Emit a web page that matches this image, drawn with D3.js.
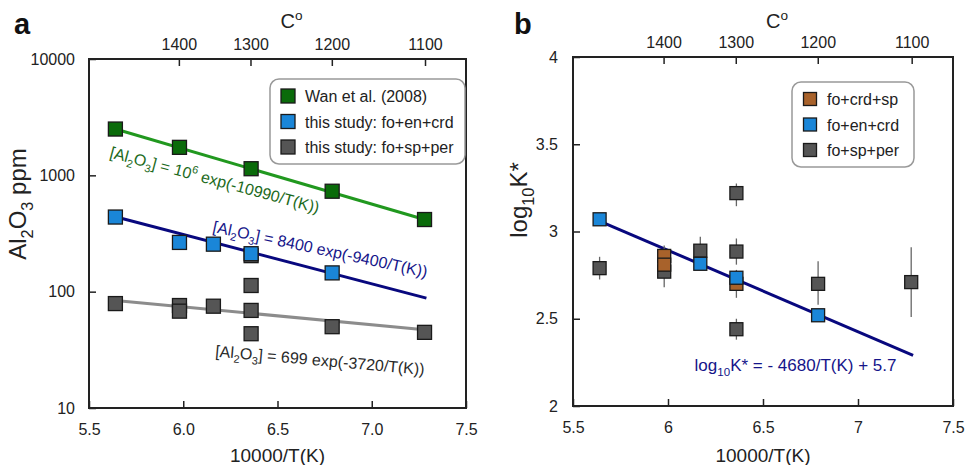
<!DOCTYPE html>
<html>
<head>
<meta charset="utf-8">
<script src="https://cdn.jsdelivr.net/npm/d3@7"></script>
<style>
body { margin: 0; background: #fff; }
svg { font-family: "Liberation Sans", Arial, sans-serif; }
</style>
</head>
<body>
<svg width="966" height="465"></svg>
<script>
// ---- panel a: Al2O3 (ppm) vs 10000/T ----
var wanX  = [5.64, 5.98, 6.36, 6.79, 7.28];
var wanAl = [2500, 1740, 1140, 730, 417];
var enX   = [5.64, 5.98, 6.16, 6.36, 6.79];
var enAl  = [438, 265, 256, 212, 145];
var spX   = [5.64, 5.98, 5.98, 6.16, 6.36, 6.36, 6.36, 6.36, 6.79, 7.28];
var spAl  = [79, 76, 68, 75, 204, 113, 69, 43.5, 50, 44.7];
// fitted lines (end points)
var wanFitX = [5.64, 7.28], wanFitAl = [2500, 417];
var enFitX  = [5.64, 7.29], enFitAl  = [440, 88];
var spFitX  = [5.64, 7.28], spFitAl  = [84, 47];

// ---- panel b: log10K* vs 10000/T ----
var perX  = [5.64, 5.98, 6.17, 6.36, 6.36, 6.36, 6.79, 7.28];
var perK  = [2.79, 2.77, 2.89, 3.22, 2.885, 2.44, 2.70, 2.71];
var perLo = [2.725, 2.68, 2.81, 3.145, 2.81, 2.38, 2.58, 2.51];
var perHi = [2.855, 2.85, 2.97, 3.275, 2.96, 2.50, 2.83, 2.91];
var crdX  = [5.98, 5.98, 6.36];
var crdK  = [2.86, 2.81, 2.70];
var crdLo = [2.80, 2.77, 2.62];
var crdHi = [2.92, 2.85, 2.78];
var enbX  = [5.64, 6.17, 6.36, 6.79];
var enbK  = [3.07, 2.815, 2.735, 2.52];
var kFitX = [5.64, 7.29], kFitK = [3.06, 2.29];

// ---- axes ----
var xTicksA = [5.5, 6.0, 6.5, 7.0, 7.5];
var xTicksB = [5.5, 6, 6.5, 7, 7.5];
var yTicksA = [10, 100, 1000, 10000];
var yTicksB = [2, 2.5, 3, 3.5, 4];
var celsiusTicks = [1400, 1300, 1200, 1100];

var col = {
	wan: "#0a6b0a", wanLine: "#21981f",
	en: "#1a86d8", enLine: "#08087e",
	sp: "#555555", spLine: "#8c8c8c",
	crd: "#a8622b", ink: "#222"
};

var svg = d3.select("svg");

function zip(xs, ys){ return xs.map(function(x, i){ return { x: x, y: ys[i], i: i } }) }

// text with sub/superscript parts: [[str, "sub"|"sup"|undefined], ...]
function rich(t, parts){
	var fs = parseFloat(t.attr("font-size")), cur = 0;
	parts.forEach(function(p){
		var shift = p[1] == "sub" ? fs*0.28 : p[1] == "sup" ? -fs*0.42 : 0;
		var s = t.append("tspan").attr("dy", shift - cur).text(p[0]);
		if(p[1]) s.attr("font-size", fs*0.68);
		cur = shift;
	});
	return t;
}

function frame(g, x, y, ticksX, ticksY, fmtX, fmtY, padY){
	var xr = x.range(), yr = y.range();
	g.append("g").attr("transform", "translate(0," + yr[0] + ")")
		.call(d3.axisBottom(x).tickValues(ticksX).tickFormat(fmtX).tickSizeInner(-7).tickSizeOuter(0).tickPadding(16));
	g.append("g").attr("transform", "translate(" + xr[0] + ",0)")
		.call(d3.axisLeft(y).tickValues(ticksY).tickFormat(fmtY).tickSizeInner(-7).tickSizeOuter(0).tickPadding(padY));
	g.append("g").attr("transform", "translate(0," + yr[1] + ")")
		.call(d3.axisTop(x).tickValues(celsiusTicks.map(function(c){ return 10000/(c + 273.15) }))
			.tickFormat(function(d, i){ return celsiusTicks[i] }).tickSizeInner(-7).tickSizeOuter(0).tickPadding(9));
	g.selectAll(".domain").remove();
	g.selectAll(".tick line").attr("stroke", col.ink).attr("stroke-width", 1.5);
	g.selectAll(".tick text").attr("font-size", 16).attr("fill", col.ink).attr("font-family", null);
	g.append("rect").attr("x", xr[0]).attr("y", yr[1])
		.attr("width", xr[1] - xr[0]).attr("height", yr[0] - yr[1])
		.attr("fill", "none").attr("stroke", col.ink).attr("stroke-width", 2);
	rich(g.append("text").attr("x", (xr[0] + xr[1])/2 + 14).attr("y", 28).attr("font-size", 20)
		.attr("text-anchor", "middle").attr("fill", col.ink), [["C"], ["o", "sup"]]);
	g.append("text").attr("x", (xr[0] + xr[1])/2).attr("y", 462).attr("font-size", 19)
		.attr("text-anchor", "middle").attr("fill", col.ink).text("10000/T(K)");
}

function squares(g, data, x, y, fill, size){
	g.selectAll(null).data(data).enter().append("rect")
		.attr("x", function(d){ return x(d.x) - size/2 })
		.attr("y", function(d){ return y(d.y) - size/2 })
		.attr("width", size).attr("height", size)
		.attr("fill", fill).attr("stroke", "#1a1a1a").attr("stroke-width", 1.3);
}

function fitLine(g, xs, ys, x, y, color, w){
	g.append("path").datum(zip(xs, ys))
		.attr("d", d3.line().x(function(d){ return x(d.x) }).y(function(d){ return y(d.y) }))
		.attr("fill", "none").attr("stroke", color).attr("stroke-width", w);
}

function legend(g, x0, y0, w, h, items, size){
	g.append("rect").attr("x", x0).attr("y", y0).attr("width", w).attr("height", h)
		.attr("rx", 9).attr("fill", "#fff").attr("stroke", "#999").attr("stroke-width", 1.5);
	items.forEach(function(it, i){
		var cy = y0 + 17 + i*25.5;
		g.append("rect").attr("x", x0 + 18 - size/2).attr("y", cy - size/2)
			.attr("width", size).attr("height", size)
			.attr("fill", it[1]).attr("stroke", "#1a1a1a").attr("stroke-width", 1.3);
		g.append("text").attr("x", x0 + 35).attr("y", cy + 6).attr("font-size", 16)
			.attr("fill", col.ink).text(it[0]);
	});
}

// ================= panel a =================
var ga = svg.append("g");
var xa = d3.scaleLinear().domain([5.5, 7.5]).range([89, 466]);
var ya = d3.scaleLog().domain([10, 10000]).range([408, 59]);

frame(ga, xa, ya, xTicksA, yTicksA, d3.format(".1f"), d3.format("d"), 14);

fitLine(ga, spFitX, spFitAl, xa, ya, col.spLine, 3);
fitLine(ga, enFitX, enFitAl, xa, ya, col.enLine, 3);
fitLine(ga, wanFitX, wanFitAl, xa, ya, col.wanLine, 3);
squares(ga, zip(spX, spAl), xa, ya, col.sp, 14);
squares(ga, zip(enX, enAl), xa, ya, col.en, 14);
squares(ga, zip(wanX, wanAl), xa, ya, col.wan, 14);

function eqA(x, y, angle, color, parts){
	rich(ga.append("text").attr("font-size", 16).attr("fill", color)
		.attr("transform", "translate(" + xa(x) + "," + ya(y) + ") rotate(" + angle + ")"), parts);
}
eqA(5.606, 1430, 15, "#1c6a1c", [["[Al"], ["2", "sub"], ["O"], ["3", "sub"], ["] = 10"], ["6", "sup"], [" exp(-10990/T(K))"]]);
eqA(6.153, 327, 12, "#15158a", [["[Al"], ["2", "sub"], ["O"], ["3", "sub"], ["] = 8400 exp(-9400/T(K))"]]);
eqA(6.168, 27.7, 5, "#2a2a2a", [["[Al"], ["2", "sub"], ["O"], ["3", "sub"], ["] = 699 exp(-3720/T(K))"]]);

legend(ga, 270, 79, 195, 85, [["Wan et al. (2008)", col.wan], ["this study: fo+en+crd", col.en], ["this study: fo+sp+per", col.sp]], 14);

rich(ga.append("text").attr("font-size", 24).attr("fill", col.ink).attr("text-anchor", "middle")
	.attr("transform", "translate(26,204) rotate(-90)"), [["Al"], ["2", "sub"], ["O"], ["3", "sub"], [" ppm"]]);
ga.append("text").attr("x", 14).attr("y", 34).attr("font-size", 29).attr("font-weight", "bold")
	.attr("fill", "#111").text("a");

// ================= panel b =================
var gb = svg.append("g");
var xb = d3.scaleLinear().domain([5.5, 7.5]).range([573, 953]);
var yb = d3.scaleLinear().domain([2, 4]).range([406, 57]);

frame(gb, xb, yb, xTicksB, yTicksB, d3.format(""), d3.format(""), 15);

fitLine(gb, kFitX, kFitK, xb, yb, col.enLine, 3);

function errBars(data, lo, hi){
	gb.selectAll(null).data(data).enter().append("line")
		.attr("x1", function(d){ return xb(d.x) }).attr("x2", function(d){ return xb(d.x) })
		.attr("y1", function(d){ return yb(lo[d.i]) }).attr("y2", function(d){ return yb(hi[d.i]) })
		.attr("stroke", "#666").attr("stroke-width", 1.3);
}
errBars(zip(perX, perK), perLo, perHi);
errBars(zip(crdX, crdK), crdLo, crdHi);
squares(gb, zip(perX, perK), xb, yb, col.sp, 13);
squares(gb, zip(crdX, crdK), xb, yb, col.crd, 13);
squares(gb, zip(enbX, enbK), xb, yb, col.en, 13);

rich(gb.append("text").attr("x", xb(6.14)).attr("y", yb(2.2)).attr("font-size", 17).attr("fill", "#15158a"),
	[["log"], ["10", "sub"], ["K* =  - 4680/T(K) + 5.7"]]);

legend(gb, 792, 82, 122, 85, [["fo+crd+sp", col.crd], ["fo+en+crd", col.en], ["fo+sp+per", col.sp]], 13);

rich(gb.append("text").attr("font-size", 24).attr("fill", col.ink).attr("text-anchor", "middle")
	.attr("transform", "translate(527,200) rotate(-90)"), [["log"], ["10", "sub"], ["K*"]]);
gb.append("text").attr("x", 514).attr("y", 34).attr("font-size", 29).attr("font-weight", "bold")
	.attr("fill", "#111").text("b");
</script>
</body>
</html>
